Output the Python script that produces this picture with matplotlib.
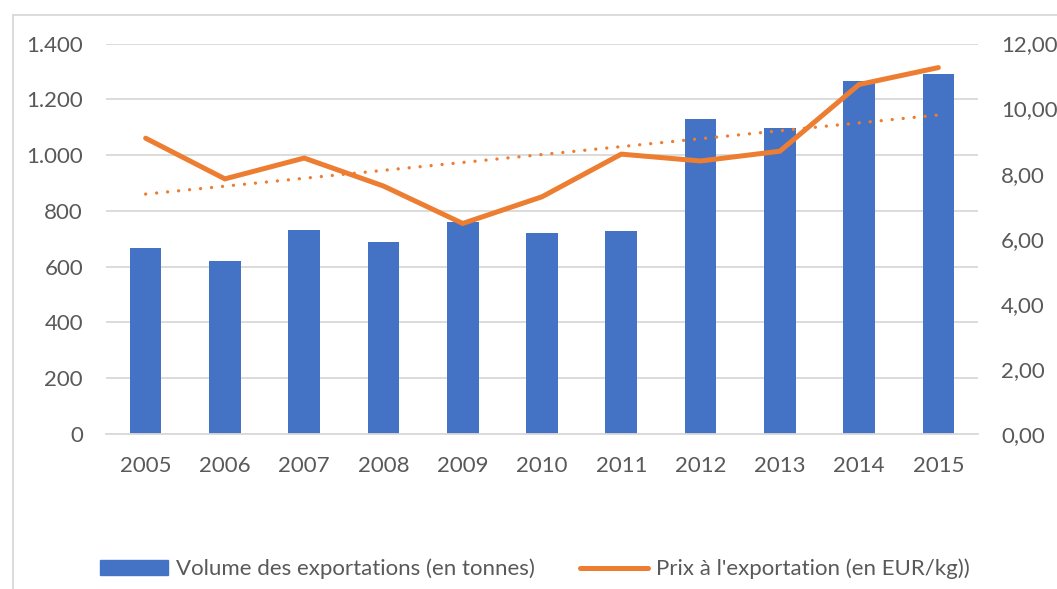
import matplotlib
matplotlib.use("Agg")
import matplotlib.pyplot as plt
import numpy as np
from matplotlib.ticker import FuncFormatter, FixedLocator
from matplotlib.lines import Line2D

years = ["2005", "2006", "2007", "2008", "2009", "2010", "2011", "2012", "2013", "2014", "2015"]
volume = [668, 621, 733, 689, 761, 722, 726, 1129, 1097, 1265, 1290]
price = [9.09, 7.84, 8.48, 7.62, 6.47, 7.29, 8.60, 8.39, 8.69, 10.74, 11.26]
left_ticks = [0, 200, 400, 600, 800, 1000, 1200, 1400]
right_ticks = [0, 2, 4, 6, 8, 10, 12]

label_vol = "Volume des exportations (en tonnes)"
label_price = "Prix à l'exportation (en EUR/kg))"

BLUE = "#4472C4"
ORANGE = "#ED7D31"
TXT = "#595959"
GRID = "#D9D9D9"
FONT = "Lato"
FS = 16

plt.rcParams['font.family'] = [FONT, 'DejaVu Sans']

fig = plt.figure(figsize=(10.57, 5.89), dpi=100)
ax = fig.add_axes([106/1057, 1-434/589, (978-106)/1057, (434-43.5)/589])
ax2 = ax.twinx()

x = np.arange(len(years))
ax.bar(x, volume, width=0.40, color=BLUE, zorder=2)
ax.set_xlim(-0.5, len(years)-0.5)
ax.set_ylim(0, 1400)
ax.yaxis.set_major_locator(FixedLocator(left_ticks))
ax.yaxis.set_major_formatter(FuncFormatter(lambda v, p: f"{int(v):,}".replace(",", ".")))
ax.set_xticks(x)
ax.set_xticklabels(years)
ax.grid(axis='y', color=GRID, linewidth=1.3, zorder=0)
ax.set_axisbelow(True)

ax2.set_ylim(0, 12)
ax2.yaxis.set_major_locator(FixedLocator(right_ticks))
ax2.yaxis.set_major_formatter(FuncFormatter(lambda v, p: f"{v:.2f}".replace(".", ",")))
ax2.plot(x, price, color=ORANGE, linewidth=3.6, solid_capstyle='round', solid_joinstyle='miter', zorder=4)
coef = np.polyfit(x, price, 1)
trend = np.polyval(coef, x)
ax2.plot([x[0], x[-1]], [trend[0], trend[-1]], color=ORANGE, linewidth=2.4,
         linestyle=(0, (0.01, 3.3)), dash_capstyle='round', zorder=3)

for a in (ax, ax2):
    for s in a.spines.values():
        s.set_visible(False)
    a.tick_params(length=0, labelsize=FS, labelcolor=TXT)
ax.spines['bottom'].set_visible(True)
ax.spines['bottom'].set_color(GRID)
ax.spines['bottom'].set_linewidth(1.3)
ax.tick_params(axis='y', pad=16.5)
ax.tick_params(axis='x', pad=16)
ax2.tick_params(axis='y', pad=16.5)

# chart frame (left and top edges visible)
fig.add_artist(Line2D([12.5/1057, 12.5/1057], [0, 1-15/589], transform=fig.transFigure, color=GRID, linewidth=1.3))
fig.add_artist(Line2D([12.5/1057, 1], [1-15/589, 1-15/589], transform=fig.transFigure, color=GRID, linewidth=1.3))

handles = [plt.Rectangle((0, 0), 1, 1, color=BLUE),
           Line2D([0], [0], color=ORANGE, linewidth=3.6, solid_capstyle='round')]
leg = fig.legend(handles, [label_vol, label_price], loc='center', bbox_to_anchor=(535/1057, 1-569/589),
                 ncol=2, frameon=False, fontsize=FS, labelcolor=TXT, handlelength=3.06,
                 handleheight=0.6, handletextpad=0.36, columnspacing=2.0)

fig.savefig("out.png", dpi=100)
